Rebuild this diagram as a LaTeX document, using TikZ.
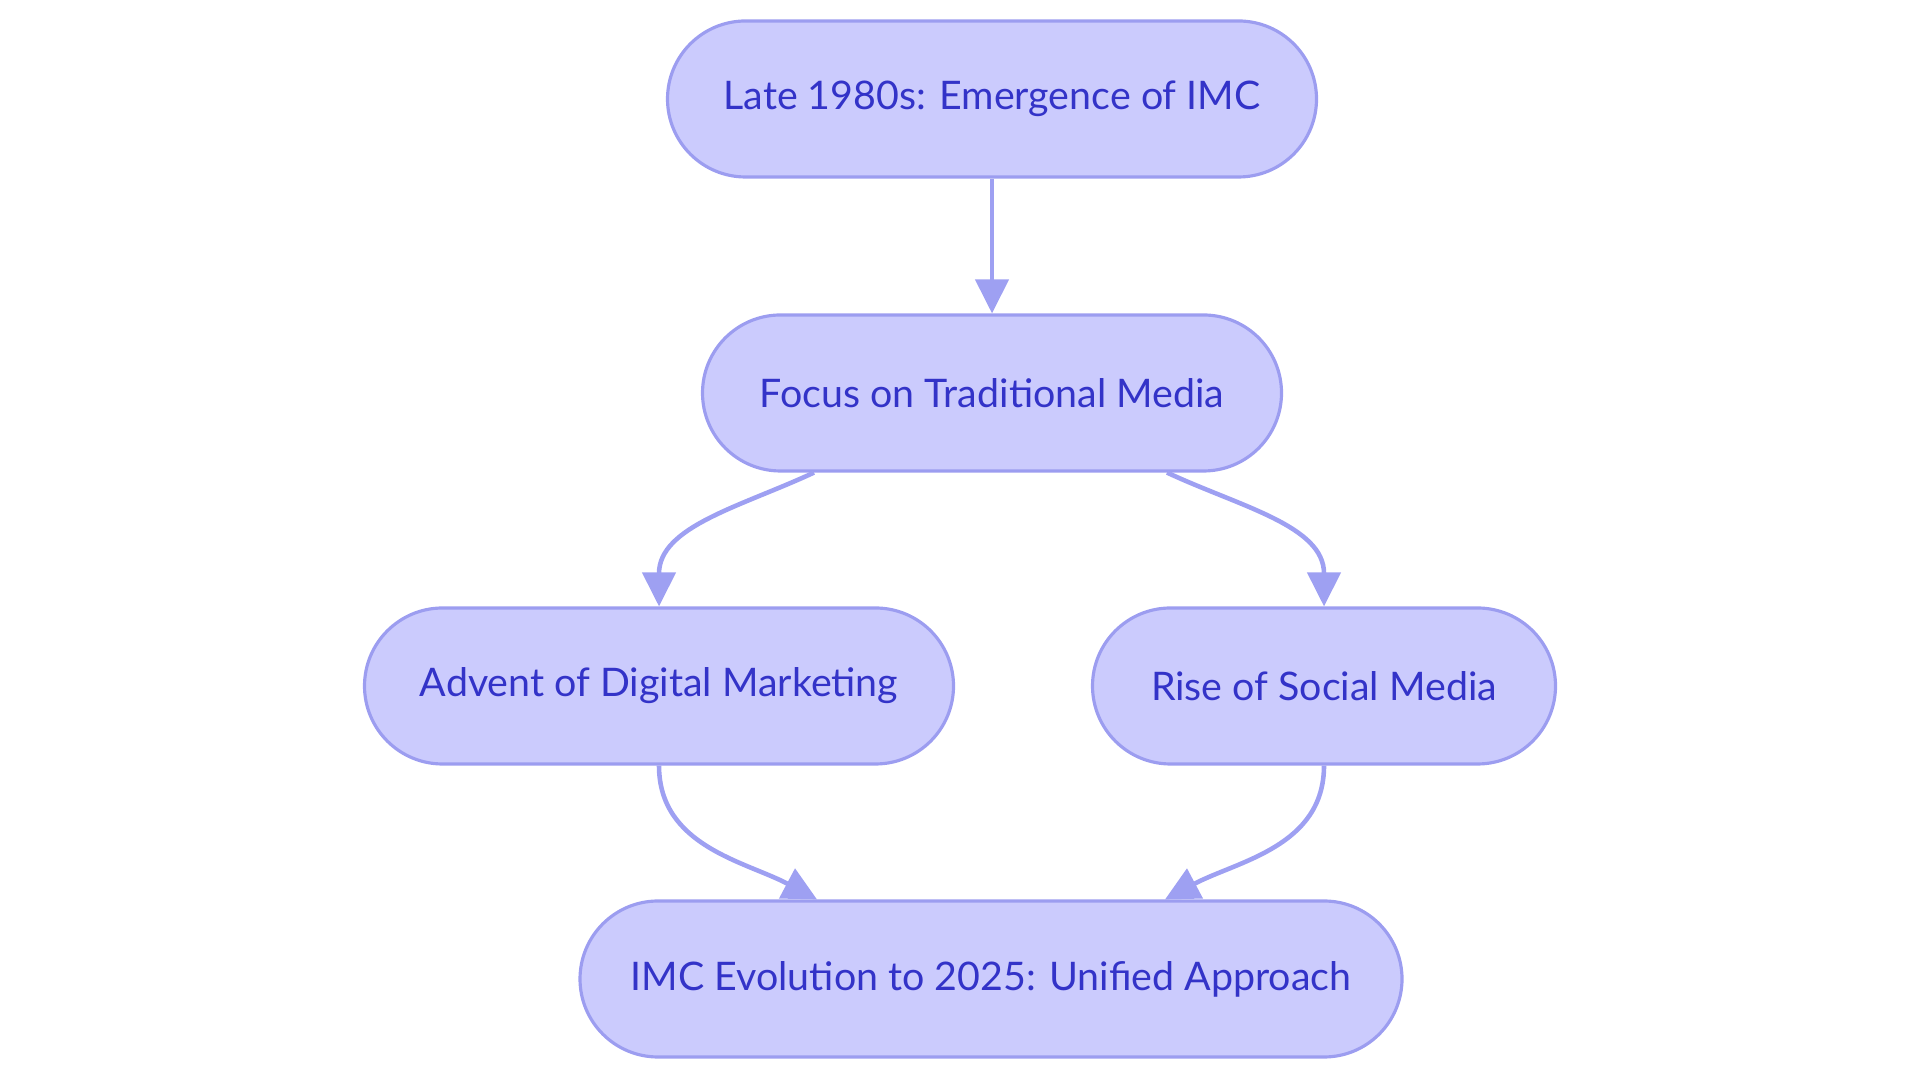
\documentclass[tikz,border=0pt]{standalone}
\usepackage{fontspec}
\setmainfont{Lato}
\usetikzlibrary{arrows.meta}
\definecolor{boxfill}{HTML}{CBCBFD}
\definecolor{boxline}{HTML}{9C9DF0}
\definecolor{boxtext}{HTML}{3333C8}
\definecolor{linkcol}{HTML}{9EA0F2}
\begin{document}
\begin{tikzpicture}[
  stage/.style={draw=boxline, line width=0.9pt, fill=boxfill,
    text=boxtext, rounded corners=0.78cm, minimum height=1.56cm,
    font=\fontsize{11.2}{14}\selectfont},
  link/.style={draw=linkcol, line width=1.3pt,
    -{Triangle[length=3.4mm,width=3.3mm]}}]
  \useasboundingbox (0,0) rectangle (19.2,10.83);
  \node[stage, minimum width=6.49cm] (late) at (9.92,9.84)
    {Late 1980s: Emergence of IMC};
  \node[stage, minimum width=5.79cm] (focus) at (9.92,6.90)
    {Focus on Traditional Media};
  \node[stage, minimum width=5.89cm] (advent) at (6.59,3.97)
    {Advent of Digital Marketing};
  \node[stage, minimum width=4.63cm] (rise) at (13.24,3.97)
    {Rise of Social Media};
  \node[stage, minimum width=8.22cm] (unified) at (9.91,1.04)
    {IMC Evolution to 2025: Unified Approach};

  \draw[link] (late) -- (focus);
  \draw[link] ([xshift=-1.78cm]focus.south)
    to[out=-155, in=90] (advent.north);
  \draw[link] ([xshift=1.75cm]focus.south)
    to[out=-25, in=90] (rise.north);
  \draw[link] (advent.south)
    to[out=-90, in=152] ([xshift=-1.74cm]unified.north);
  \draw[link] (rise.south)
    to[out=-90, in=28] ([xshift=1.74cm]unified.north);

\end{tikzpicture}
\end{document}
